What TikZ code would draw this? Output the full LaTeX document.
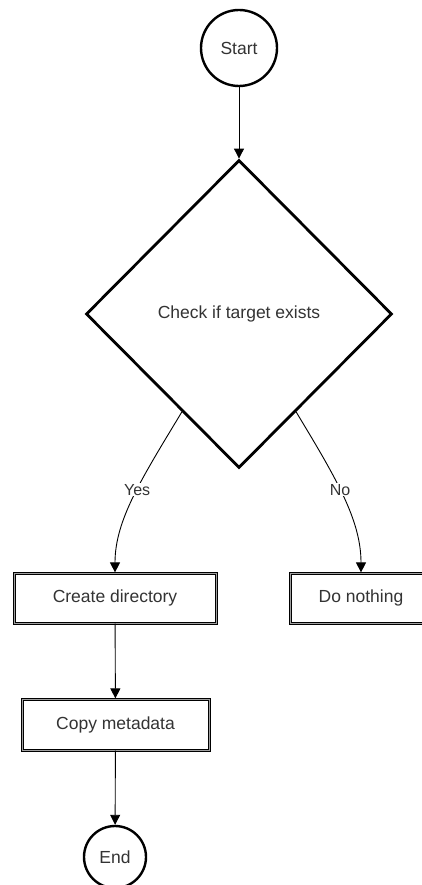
\documentclass[tikz,border=0pt]{standalone}
\usepackage{fontspec}
\setmainfont{Liberation Sans}
\usetikzlibrary{shapes.geometric,arrows.meta,calc}
\definecolor{txt}{HTML}{333333}
\tikzset{
  every node/.style={font=\fontsize{17.5}{20}\selectfont, text=txt},
  termcircle/.style={circle, draw=black, line width=2.4pt, minimum size=76pt, inner sep=0pt, fill=white},
  decisionbox/.style={diamond, draw=black, line width=2.8pt, minimum width=306pt, minimum height=308pt, inner sep=0pt},
  processbox/.style={rectangle, draw=black, line width=1.2pt, double=gray!75, double distance=0.6pt, inner sep=0pt},
  conn/.style={draw=black, line width=0.9pt, -{Triangle[length=10pt,width=10pt]}},
  edgelabel/.style={fill=white, inner sep=1pt, font=\fontsize{16}{18}\selectfont}
}
\begin{document}
\begin{tikzpicture}[x=1pt, y=-1pt]
\useasboundingbox (0,0) rectangle (422,885);
\clip (0,0) rectangle (422,885);
\fill[white] (0,0) rectangle (422,885);
\node[termcircle] (start) at (239,48) {Start};
\node[decisionbox] (check) at (239,314) {Check if target exists};
\node[processbox, minimum width=202pt, minimum height=50pt] (create) at (115,598) {Create directory};
\node[processbox, minimum width=142pt, minimum height=50pt] (nothing) at (361,598) {Do nothing};
\node[processbox, minimum width=187pt, minimum height=51pt] (copy) at (115.5,724.5) {Copy metadata};
\node[termcircle, minimum size=62pt] (end) at (115,857) {End};
\coordinate (yesout) at ($(check.south)!0.37!(check.west)$);
\coordinate (noout) at ($(check.south)!0.37!(check.east)$);
\draw[conn] (start) -- (check.north);
\draw[conn] (yesout) .. controls (142,478) and (115,520) .. (create.north)
  node[edgelabel, pos=0.45] (yeslbl) {Yes};
\draw[conn] (noout) .. controls (336,478) and (361,520) .. (nothing.north)
  node[edgelabel, pos=0.45] (nolbl) {No};
\draw[conn] (create) -- (copy);
\draw[conn] (copy) -- (end);
\end{tikzpicture}
\end{document}
